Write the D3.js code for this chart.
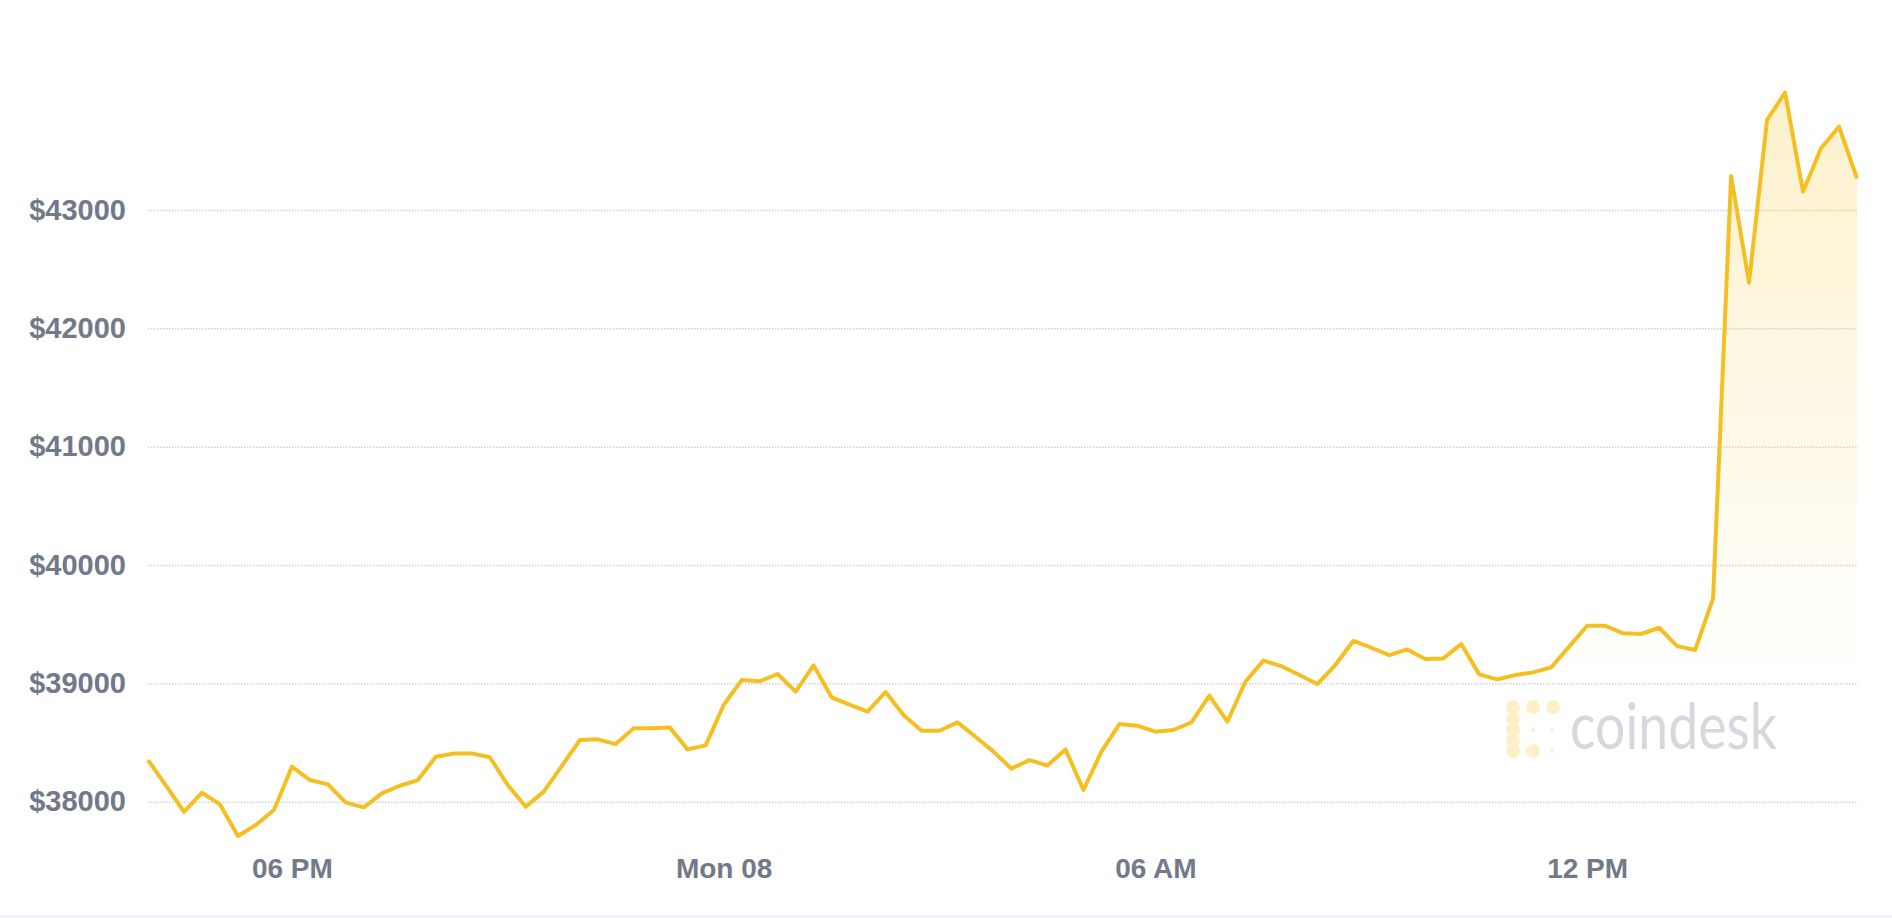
<!DOCTYPE html>
<html>
<head>
<meta charset="utf-8">
<script src="https://cdnjs.cloudflare.com/ajax/libs/d3/7.8.5/d3.min.js"></script>
<style>
  html, body { margin: 0; padding: 0; background: #fff; }
  svg { display: block; }
</style>
</head>
<body>
<div id="chart"></div>
<script>
// BTC price, 15 minute steps, Sun 7 Feb 2021 16:00 -> Mon 8 Feb 15:45
var startTime = new Date(2021, 1, 7, 16, 0)
var stepMinutes = 15
var prices = [
  38352, 38135, 37915, 38076, 37977, 37710, 37803, 37930, 38296, 38183,
  38146, 37992, 37952, 38070, 38135, 38183, 38380, 38408, 38408, 38375,
  38141, 37958, 38085, 38301, 38521, 38527, 38487, 38620, 38620, 38628,
  38442, 38476, 38817, 39028, 39017, 39079, 38930, 39152, 38882, 38820,
  38761, 38927, 38732, 38600, 38600, 38670, 38549, 38423, 38279, 38352,
  38306, 38442, 38099, 38423, 38656, 38642, 38592, 38606, 38670, 38896,
  38676, 39014, 39192, 39146, 39070, 38994, 39155, 39358, 39301, 39239,
  39287, 39206, 39211, 39332, 39076, 39034, 39070, 39093, 39135, 39310,
  39487, 39487, 39423, 39417, 39470, 39315, 39282, 39718, 43287, 42386,
  43761, 43992, 43155, 43521, 43704, 43268
]
var yTicks = [38000, 39000, 40000, 41000, 42000, 43000]
var xTickTimes = [
  new Date(2021, 1, 7, 18, 0),
  new Date(2021, 1, 8, 0, 0),
  new Date(2021, 1, 8, 6, 0),
  new Date(2021, 1, 8, 12, 0)
]
var xTickLabels = ['06 PM', 'Mon 08', '06 AM', '12 PM']

var data = prices.map(function(p, i){
  return { t: new Date(startTime.getTime() + i * stepMinutes * 60000), v: p }
})

var W = 1892, H = 918
var left = 148, right = 1857
var svg = d3.select('#chart').append('svg')
  .attr('width', W)
  .attr('height', H)

var x = d3.scaleTime()
  .domain([data[0].t, data[data.length - 1].t])
  .range([left, right])
var y = d3.scaleLinear()
  .domain([38000, 43000])
  .range([801.7, 210])
var plotBottom = 845

// gradient for the area, fades out well above the bottom
var defs = svg.append('defs')
var grad = defs.append('linearGradient')
  .attr('id', 'areaFill')
  .attr('gradientUnits', 'userSpaceOnUse')
  .attr('x1', 0).attr('x2', 0)
  .attr('y1', y(d3.max(prices))).attr('y2', 690)
grad.append('stop').attr('offset', 0).attr('stop-color', '#f7c325').attr('stop-opacity', 0.24)
grad.append('stop').attr('offset', 1).attr('stop-color', '#f7c325').attr('stop-opacity', 0)

// y axis with dotted grid lines
var yAxis = svg.append('g')
  .attr('transform', 'translate(' + left + ',0)')
  .call(d3.axisLeft(y)
    .tickValues(yTicks)
    .tickSizeInner(-(right - left))
    .tickSizeOuter(0)
    .tickPadding(22)
    .tickFormat(function(d){ return '$' + d }))
yAxis.select('.domain').remove()
yAxis.selectAll('.tick line')
  .attr('stroke', '#cfd2e2')
  .attr('stroke-width', 1.5)
  .attr('stroke-dasharray', '1.5,1.5')
yAxis.selectAll('.tick text')
  .attr('fill', '#727988')
  .style('font-family', '"Liberation Sans", Arial, sans-serif')
  .style('font-weight', 'bold')
  .style('font-size', '29px')

// x axis
var xAxis = svg.append('g')
  .attr('transform', 'translate(0,' + 850 + ')')
  .call(d3.axisBottom(x)
    .tickValues(xTickTimes)
    .tickSize(0)
    .tickPadding(8)
    .tickFormat(function(d, i){ return xTickLabels[i] }))
xAxis.select('.domain').remove()
xAxis.selectAll('.tick text')
  .attr('fill', '#727988')
  .style('font-family', '"Liberation Sans", Arial, sans-serif')
  .style('font-weight', 'bold')
  .style('font-size', '28px')

// watermark
var logo = svg.append('g')
var blobs = [[1513,707,7],[1533,707,7],[1553,707,7],[1513,719,7],[1513,730,7],
             [1513,741,7],[1513,751,7],[1533,751,7]]
var dots = [[1533,730,2],[1552,730,2],[1552,751,2]]
logo.selectAll('.blob').data(blobs).enter().append('circle')
  .attr('cx', function(d){ return d[0] })
  .attr('cy', function(d){ return d[1] })
  .attr('r', function(d){ return d[2] })
  .attr('fill', '#fdf0c9')
logo.selectAll('.dot').data(dots).enter().append('circle')
  .attr('cx', function(d){ return d[0] })
  .attr('cy', function(d){ return d[1] })
  .attr('r', function(d){ return d[2] })
  .attr('fill', '#fdf0c9')
logo.append('text')
  .attr('x', 1570)
  .attr('y', 749)
  .attr('textLength', 207)
  .attr('lengthAdjust', 'spacingAndGlyphs')
  .attr('fill', '#d6d8de')
  .style('font-family', 'Lato, "Open Sans", sans-serif')
  .style('font-size', '64px')
  .text('coindesk')

// area + line
var area = d3.area()
  .x(function(d){ return x(d.t) })
  .y0(plotBottom)
  .y1(function(d){ return y(d.v) })
svg.append('path')
  .datum(data)
  .attr('d', area)
  .attr('fill', 'url(#areaFill)')

var line = d3.line()
  .x(function(d){ return x(d.t) })
  .y(function(d){ return y(d.v) })
svg.append('path')
  .datum(data)
  .attr('d', line)
  .attr('fill', 'none')
  .attr('stroke', '#f5bf22')
  .attr('stroke-width', 4)
  .attr('stroke-linejoin', 'round')

// light strip at the bottom
svg.append('rect')
  .attr('x', 0).attr('y', 915)
  .attr('width', W).attr('height', 3)
  .attr('fill', '#eff1f6')
</script>
</body>
</html>
